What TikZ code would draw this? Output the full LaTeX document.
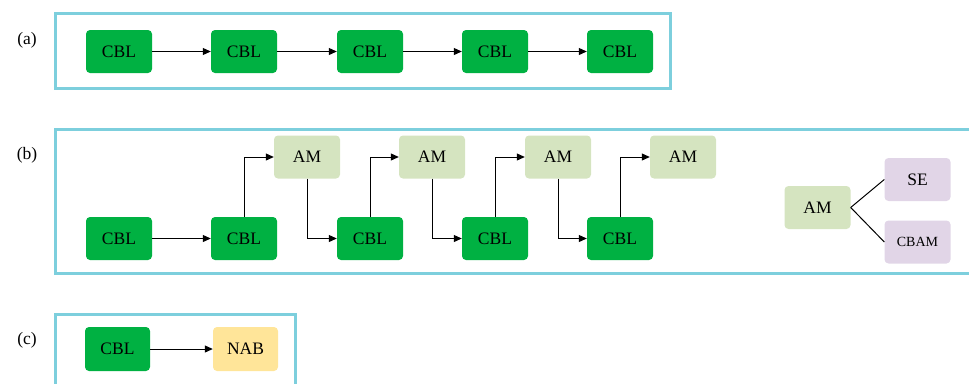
\documentclass[tikz,border=0pt]{standalone}
\usepackage{fontspec}
\setmainfont{Liberation Serif}
\usetikzlibrary{arrows.meta}
\definecolor{cblgreen}{HTML}{00B142}
\definecolor{amgreen}{HTML}{D5E4C0}
\definecolor{lavender}{HTML}{E1D5E7}
\definecolor{nabyellow}{HTML}{FFE599}
\definecolor{framecyan}{HTML}{7DCFDD}
\begin{document}
\begin{tikzpicture}[x=1pt,y=-1pt,
  blk/.style={rectangle,rounded corners=4pt,draw=none,minimum width=66pt,minimum height=43pt,
    inner sep=0pt,font=\fontsize{17.5}{19}\selectfont},
  cbl/.style={blk,fill=cblgreen},
  am/.style={blk,fill=amgreen},
  att/.style={blk,fill=lavender},
  nab/.style={blk,fill=nabyellow},
  frame/.style={draw=framecyan,line width=3pt},
  tag/.style={font=\fontsize{17.5}{19}\selectfont},
  flow/.style={line width=1pt,-{Triangle[length=8pt,width=7pt]}},
  link/.style={line width=1pt}]
\useasboundingbox (0,0) rectangle (969,383);
\clip (0,0) rectangle (969,383);

% panel (a): plain chain of CBL blocks
\draw[frame] (55,13) rectangle (670,88);
\node[tag] (ta) at (27,40) {(a)};
\foreach \i/\x in {1/119,2/244,3/370,4/495,5/620}
  \node[cbl] (a\i) at (\x,51.5) {CBL};
\foreach \i/\j in {1/2,2/3,3/4,4/5}
  \draw[flow] (a\i) -- (a\j);

% panel (b): CBL blocks interleaved with attention modules
\draw[frame] (55,129) rectangle (990,273);
\node[tag] (tb) at (27,155) {(b)};
\foreach \i/\x in {1/119,2/244,3/370,4/495,5/620}
  \node[cbl] (b\i) at (\x,238.5) {CBL};
\foreach \i/\x in {1/307,2/432,3/558,4/683}
  \node[am] (m\i) at (\x,157) {AM};
\draw[flow] (b1) -- (b2);
\foreach \i/\j in {2/1,3/2,4/3,5/4}
  \draw[flow] (b\i.north) |- (m\j.west);
\foreach \i/\j in {1/3,2/4,3/5}
  \draw[flow] (m\i.south) |- (b\j.west);

% attention module variants
\node[am] (amx) at (817.5,207.5) {AM};
\node[att] (se) at (917.5,179.5) {SE};
\node[att,font=\fontsize{14}{16}\selectfont] (cbam) at (917.5,242) {CBAM};
\draw[link] (amx.east) -- (se.west);
\draw[link] (amx.east) -- (cbam.west);

% panel (c): CBL followed by NAB
\draw[frame] (55,314) rectangle (295,390);
\node[tag] (tc) at (27,340) {(c)};
\node[cbl,minimum width=65pt,minimum height=44pt] (c1) at (117.5,349) {CBL};
\node[nab,minimum width=65pt,minimum height=44pt] (c2) at (245.5,349) {NAB};
\draw[flow] (c1) -- (c2);
\end{tikzpicture}
\end{document}
